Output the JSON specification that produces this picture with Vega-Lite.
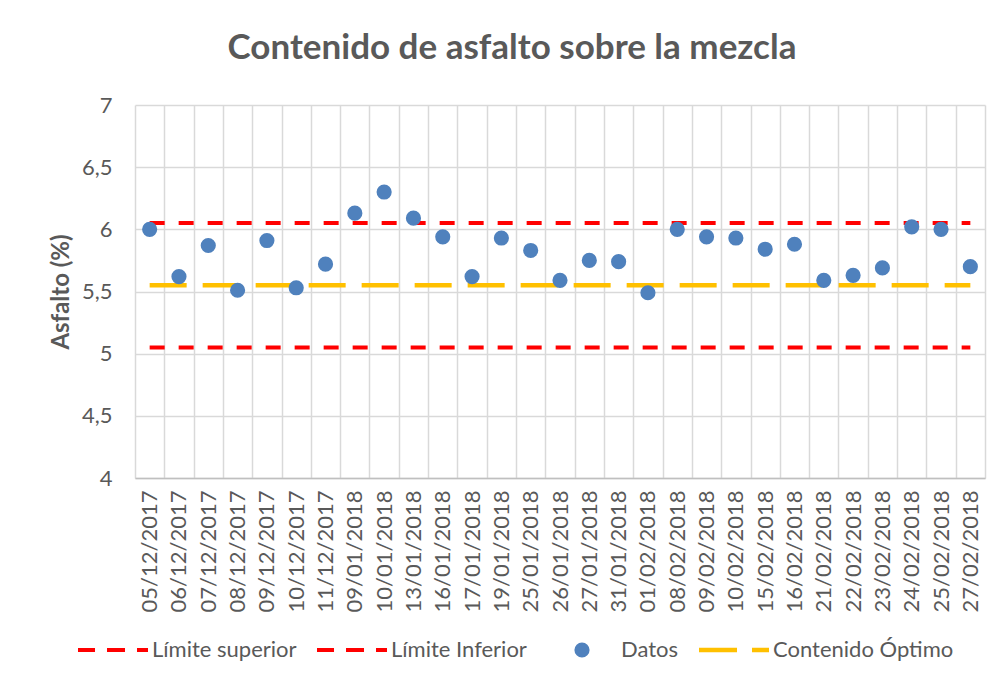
{
  "$schema": "https://vega.github.io/schema/vega-lite/v6.json",
  "width": 850,
  "height": 373,
  "autosize": {"type": "none"},
  "padding": {"left": 135, "top": 105, "right": 18, "bottom": 206},
  "background": "white",
  "title": {
    "text": "Contenido de asfalto sobre la mezcla",
    "font": "Lato",
    "fontSize": 35,
    "fontWeight": "bold",
    "color": "#595959",
    "anchor": "middle",
    "dx": -48,
    "offset": 28
  },
  "config": {
    "view": {"stroke": null},
    "font": "Lato"
  },
  "datasets": {
    "puntos": [
      {"fecha": "05/12/2017", "asfalto": 6.00, "serie": "Datos"},
      {"fecha": "06/12/2017", "asfalto": 5.62, "serie": "Datos"},
      {"fecha": "07/12/2017", "asfalto": 5.87, "serie": "Datos"},
      {"fecha": "08/12/2017", "asfalto": 5.51, "serie": "Datos"},
      {"fecha": "09/12/2017", "asfalto": 5.91, "serie": "Datos"},
      {"fecha": "10/12/2017", "asfalto": 5.53, "serie": "Datos"},
      {"fecha": "11/12/2017", "asfalto": 5.72, "serie": "Datos"},
      {"fecha": "09/01/2018", "asfalto": 6.13, "serie": "Datos"},
      {"fecha": "10/01/2018", "asfalto": 6.30, "serie": "Datos"},
      {"fecha": "13/01/2018", "asfalto": 6.09, "serie": "Datos"},
      {"fecha": "16/01/2018", "asfalto": 5.94, "serie": "Datos"},
      {"fecha": "17/01/2018", "asfalto": 5.62, "serie": "Datos"},
      {"fecha": "19/01/2018", "asfalto": 5.93, "serie": "Datos"},
      {"fecha": "25/01/2018", "asfalto": 5.83, "serie": "Datos"},
      {"fecha": "26/01/2018", "asfalto": 5.59, "serie": "Datos"},
      {"fecha": "27/01/2018", "asfalto": 5.75, "serie": "Datos"},
      {"fecha": "31/01/2018", "asfalto": 5.74, "serie": "Datos"},
      {"fecha": "01/02/2018", "asfalto": 5.49, "serie": "Datos"},
      {"fecha": "08/02/2018", "asfalto": 6.00, "serie": "Datos"},
      {"fecha": "09/02/2018", "asfalto": 5.94, "serie": "Datos"},
      {"fecha": "10/02/2018", "asfalto": 5.93, "serie": "Datos"},
      {"fecha": "15/02/2018", "asfalto": 5.84, "serie": "Datos"},
      {"fecha": "16/02/2018", "asfalto": 5.88, "serie": "Datos"},
      {"fecha": "21/02/2018", "asfalto": 5.59, "serie": "Datos"},
      {"fecha": "22/02/2018", "asfalto": 5.63, "serie": "Datos"},
      {"fecha": "23/02/2018", "asfalto": 5.69, "serie": "Datos"},
      {"fecha": "24/02/2018", "asfalto": 6.02, "serie": "Datos"},
      {"fecha": "25/02/2018", "asfalto": 6.00, "serie": "Datos"},
      {"fecha": "27/02/2018", "asfalto": 5.70, "serie": "Datos"}
    ],
    "limites": [
      {"serie": "Límite superior", "valor": 6.05, "desde": "05/12/2017", "hasta": "27/02/2018"},
      {"serie": "Límite Inferior", "valor": 5.05, "desde": "05/12/2017", "hasta": "27/02/2018"}
    ],
    "optimo": [
      {"serie": "Contenido Óptimo", "valor": 5.55, "desde": "05/12/2017", "hasta": "27/02/2018"}
    ]
  },
  "encoding": {
    "x": {
      "type": "nominal",
      "scale": {
        "domain": ["05/12/2017","06/12/2017","07/12/2017","08/12/2017","09/12/2017","10/12/2017","11/12/2017","09/01/2018","10/01/2018","13/01/2018","16/01/2018","17/01/2018","19/01/2018","25/01/2018","26/01/2018","27/01/2018","31/01/2018","01/02/2018","08/02/2018","09/02/2018","10/02/2018","15/02/2018","16/02/2018","21/02/2018","22/02/2018","23/02/2018","24/02/2018","25/02/2018","27/02/2018"],
        "type": "band",
        "paddingInner": 0,
        "paddingOuter": 0
      },
      "axis": {
        "title": null,
        "labelAngle": -90,
        "labelFont": "Lato",
        "labelFontSize": 22,
        "labelColor": "#595959",
        "labelPadding": 12,
        "ticks": false,
        "tickBand": "extent",
        "grid": true,
        "gridColor": "#d9d9d9",
        "gridWidth": 1.5,
        "domainColor": "#bfbfbf",
        "domainWidth": 1.5
      }
    },
    "y": {
      "type": "quantitative",
      "scale": {"domain": [4, 7], "nice": false, "zero": false},
      "axis": {
        "title": "Asfalto (%)",
        "titleFont": "Lato",
        "titleFontSize": 24,
        "titleFontWeight": "bold",
        "titleColor": "#595959",
        "titlePadding": 8,
        "values": [4, 4.5, 5, 5.5, 6, 6.5, 7],
        "labelExpr": "replace(format(datum.value, '.1~f'), '.', ',')",
        "labelFont": "Lato",
        "labelFontSize": 22,
        "labelColor": "#595959",
        "labelPadding": 23,
        "ticks": false,
        "domain": false,
        "grid": true,
        "gridColor": "#d9d9d9",
        "gridWidth": 1.5
      }
    }
  },
  "layer": [
    {
      "data": {"name": "limites"},
      "mark": {"type": "rule", "color": "#ff0000", "strokeWidth": 4, "strokeDash": [15, 14]},
      "encoding": {
        "x": {"field": "desde", "type": "nominal"},
        "x2": {"field": "hasta"},
        "y": {"field": "valor", "type": "quantitative"}
      }
    },
    {
      "data": {"name": "optimo"},
      "mark": {"type": "rule", "color": "#ffc000", "strokeWidth": 4.5, "strokeDash": [37, 16]},
      "encoding": {
        "x": {"field": "desde", "type": "nominal"},
        "x2": {"field": "hasta"},
        "y": {"field": "valor", "type": "quantitative"}
      }
    },
    {
      "data": {"name": "puntos"},
      "mark": {"type": "circle", "size": 230, "opacity": 1},
      "encoding": {
        "x": {"field": "fecha", "type": "nominal"},
        "y": {"field": "asfalto", "type": "quantitative"},
        "color": {
          "field": "serie",
          "type": "nominal",
          "scale": {
            "domain": ["Límite superior", "Límite Inferior", "Datos", "Contenido Óptimo"],
            "range": ["#ff0000", "#ff0000", "#4f81bd", "#ffc000"]
          },
          "legend": {
            "title": null,
            "orient": "none",
            "direction": "horizontal",
            "legendX": -57,
            "legendY": 510,
            "symbolSize": 4900,
            "labelFont": "Lato",
            "labelFontSize": 22,
            "labelColor": "#595959",
            "labelLimit": 400,
            "labelOffset": 4,
            "columnPadding": 20,
            "symbolOpacity": 1,
            "encode": {
              "symbols": {
                "update": {
                  "shape": {"signal": "datum.label == 'Datos' ? 'circle' : (datum.label == 'Contenido Óptimo' ? 'M-1,-0.064H0.086V0.064H-1Z M0.514,-0.064H1V0.064H0.514Z' : 'M-1,-0.057H-0.514V0.057H-1Z M-0.171,-0.057H0.343V0.057H-0.171Z M0.686,-0.057H1V0.057H0.686Z')"},
                  "size": {"signal": "datum.label == 'Datos' ? 230 : 4900"},
                  "fill": {"signal": "datum.label == 'Datos' ? '#4f81bd' : (datum.label == 'Contenido Óptimo' ? '#ffc000' : '#ff0000')"},
                  "stroke": {"value": "transparent"},
                  "strokeWidth": {"value": 0},
                  "opacity": {"value": 1}
                }
              }
            }
          }
        }
      }
    }
  ]
}
